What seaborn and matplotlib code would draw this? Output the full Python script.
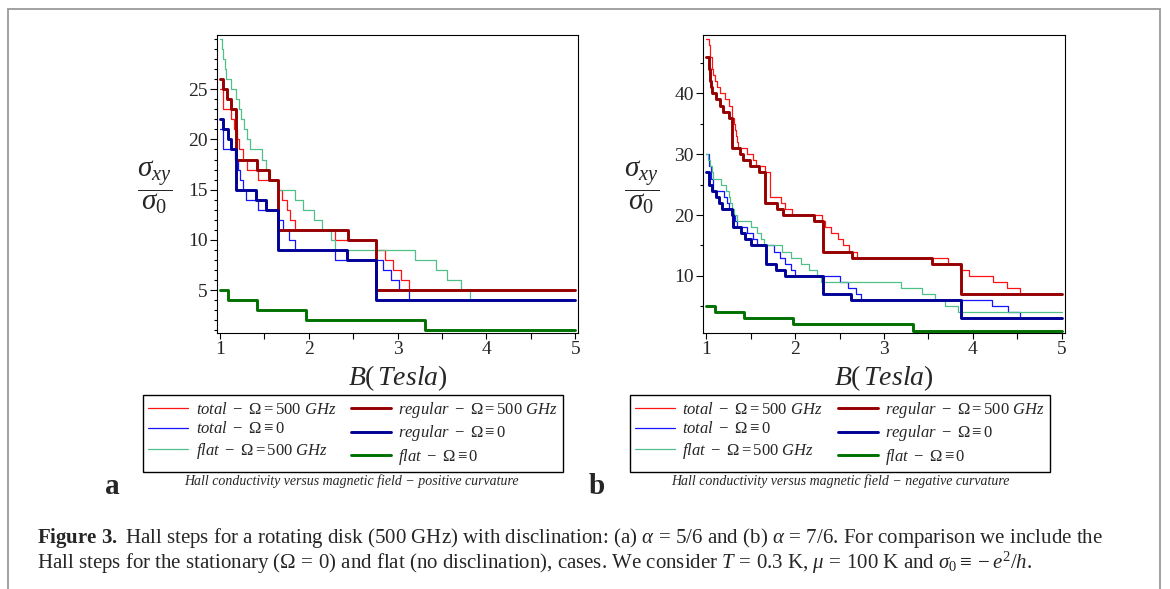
import matplotlib
matplotlib.use('Agg')
import matplotlib.pyplot as plt
import seaborn as sns
from matplotlib.patches import Rectangle
from matplotlib.ticker import MultipleLocator, FixedLocator

# --- data: step functions, value v[i] holds from b[i] up to the next break ---
B_END = 5.0

# (a) positive curvature
a_tot500_b = [1.00, 1.03, 1.13, 1.16, 1.19, 1.22, 1.26, 1.30, 1.43, 1.65, 1.70, 1.75, 1.79, 1.85,
              2.29, 2.76, 2.86, 2.95, 3.04, 3.13]
a_tot500_v = [25, 23, 22, 21, 20, 19, 18, 17, 16, 15, 14, 13, 12, 11, 10, 9, 8, 7, 6, 5]
a_reg500_b = [1.00, 1.04, 1.08, 1.13, 1.18, 1.42, 1.55, 1.65, 2.44, 2.76]
a_reg500_v = [26, 25, 24, 23, 18, 17, 16, 11, 10, 5]
a_tot0_b = [1.00, 1.04, 1.17, 1.20, 1.23, 1.26, 1.29, 1.43, 1.65, 1.71, 1.78, 1.85, 2.29, 2.83,
            2.92, 3.02, 3.13]
a_tot0_v = [21, 19, 18, 17, 16, 15, 14, 13, 12, 11, 10, 9, 8, 7, 6, 5, 4]
a_reg0_b = [1.00, 1.04, 1.09, 1.13, 1.18, 1.41, 1.52, 1.65, 2.43, 2.76]
a_reg0_v = [22, 21, 20, 19, 15, 14, 13, 9, 8, 4]
a_flat500_b = [1.00, 1.02, 1.04, 1.055, 1.07, 1.13, 1.18, 1.21, 1.24, 1.27, 1.30, 1.34, 1.47, 1.52,
               1.56, 1.65, 1.84, 1.93, 2.06, 2.15, 2.25, 2.30, 3.19, 3.43, 3.55, 3.71, 3.82]
a_flat500_v = [30, 29, 28, 27, 26, 25, 24, 23, 22, 21, 20, 19, 18, 17, 16, 15, 14, 13, 12, 11, 10,
               9, 8, 7, 6, 5, 4]
a_flat0_b = [1.00, 1.09, 1.42, 1.97, 3.31]
a_flat0_v = [5, 4, 3, 2, 1]

# (b) negative curvature
b_tot500_b = [1.00, 1.03, 1.045, 1.06, 1.08, 1.10, 1.12, 1.15, 1.205, 1.25, 1.29, 1.31, 1.32, 1.33,
              1.345, 1.36, 1.46, 1.52, 1.56, 1.665, 1.72, 1.84, 1.89, 1.96, 2.30, 2.34, 2.40, 2.485,
              2.54, 2.61, 2.70, 3.72, 3.86, 3.96, 4.23, 4.38, 4.53]
b_tot500_v = [49, 48, 46, 44, 43, 42, 41, 40, 39, 38, 36, 35, 34, 33, 32, 31, 30, 29, 28, 27, 23,
              22, 21, 20, 19, 18, 17, 16, 15, 14, 13, 12, 11, 10, 9, 8, 7]
b_reg500_b = [1.00, 1.025, 1.04, 1.055, 1.065, 1.11, 1.15, 1.19, 1.255, 1.29, 1.375, 1.41, 1.49,
              1.59, 1.66, 1.80, 1.86, 2.21, 2.31, 2.64, 3.54, 3.87]
b_reg500_v = [46, 44, 42, 41, 40, 39, 38, 37, 36, 31, 30, 29, 28, 27, 22, 21, 20, 19, 14, 13, 12, 7]
b_tot0_b = [1.00, 1.035, 1.05, 1.07, 1.20, 1.23, 1.26, 1.29, 1.32, 1.35, 1.46, 1.52, 1.57, 1.76,
            1.83, 1.89, 1.95, 2.00, 2.50, 2.595, 2.68, 2.74, 4.22, 4.40, 4.53]
b_tot0_v = [30, 28, 26, 24, 23, 22, 21, 20, 19, 18, 17, 16, 15, 14, 13, 12, 11, 10, 9, 8, 7, 6, 5,
            4, 3]
b_reg0_b = [1.00, 1.035, 1.065, 1.11, 1.145, 1.18, 1.285, 1.295, 1.305, 1.385, 1.44, 1.50, 1.67,
            1.78, 1.88, 2.31, 2.63, 3.87]
b_reg0_v = [27, 25, 24, 23, 22, 21, 20, 19, 18, 17, 16, 15, 12, 11, 10, 7, 6, 3]
b_flat500_b = [1.00, 1.02, 1.04, 1.06, 1.08, 1.16, 1.22, 1.25, 1.27, 1.29, 1.31, 1.35, 1.50, 1.57,
               1.61, 1.65, 1.855, 1.95, 2.07, 2.16, 2.24, 2.29, 3.19, 3.43, 3.57, 3.69, 3.83]
b_flat500_v = [30, 29, 28, 27, 26, 25, 24, 23, 22, 21, 20, 19, 18, 17, 16, 15, 14, 13, 12, 11, 10,
               9, 8, 7, 6, 5, 4]
b_flat0_b = [1.00, 1.10, 1.42, 1.98, 3.33]
b_flat0_v = [5, 4, 3, 2, 1]

a_yticks = [5, 10, 15, 20, 25]
b_yticks = [10, 20, 30, 40]

labels = [r'$total\ -\ \Omega = 500\ GHz$', r'$total\ -\ \Omega \equiv 0$',
          r'$flat\ -\ \Omega = 500\ GHz$', r'$regular\ -\ \Omega = 500\ GHz$',
          r'$regular\ -\ \Omega \equiv 0$', r'$flat\ -\ \Omega \equiv 0$']
colors = ['#ff1414', '#1414ff', '#50c08a', '#960000', '#000096', '#007000']
widths = [0.9, 0.9, 0.9, 2.1, 2.1, 2.1]

panels = [
    dict(series=[(a_tot500_b, a_tot500_v), (a_tot0_b, a_tot0_v), (a_flat500_b, a_flat500_v),
                 (a_reg500_b, a_reg500_v), (a_reg0_b, a_reg0_v), (a_flat0_b, a_flat0_v)],
         left=217, right=578, xlim=(0.967, 5.03), ylim=(0.73, 30.4), yticks=a_yticks, minor=1,
         letter='a', sub='Hall conductivity versus magnetic field \u2212 positive curvature',
         leg_x=143, sub_x=351, lab_x=112, ylab_x=155),
    dict(series=[(b_tot500_b, b_tot500_v), (b_tot0_b, b_tot0_v), (b_flat500_b, b_flat500_v),
                 (b_reg500_b, b_reg500_v), (b_reg0_b, b_reg0_v), (b_flat0_b, b_flat0_v)],
         left=703, right=1065, xlim=(0.962, 5.037), ylim=(0.6, 49.6), yticks=b_yticks, minor=5,
         letter='b', sub='Hall conductivity versus magnetic field \u2212 negative curvature',
         leg_x=630, sub_x=840, lab_x=597, ylab_x=642),
]

sns.set_theme(style='white')
plt.rcParams['font.family'] = ['Liberation Serif', 'DejaVu Serif']
plt.rcParams['mathtext.fontset'] = 'custom'
plt.rcParams['mathtext.rm'] = 'Liberation Serif'
plt.rcParams['mathtext.it'] = 'Liberation Serif:italic'
plt.rcParams['mathtext.bf'] = 'Liberation Serif:bold'

W, H = 1170, 589
fig = plt.figure(figsize=(W / 100, H / 100), dpi=100)
fig.patch.set_facecolor('white')

# grey page frame
fig.add_artist(Rectangle((8 / W, -0.1), (1160 - 8) / W, 1.1 - 9 / H, transform=fig.transFigure,
                         fill=False, edgecolor='#9a9a9a', lw=1.3, clip_on=False))

top, bottom = 35, 333
for p in panels:
    ax = fig.add_axes([p['left'] / W, 1 - bottom / H, (p['right'] - p['left']) / W, (bottom - top) / H])
    for (bb, vv), c, lw, lab in zip(p['series'], colors, widths, labels):
        sns.lineplot(x=bb + [B_END], y=vv + [vv[-1]], ax=ax, color=c, lw=lw, label=lab,
                     drawstyle='steps-post', estimator=None, sort=False, legend=False)
    if ax.get_legend() is not None:
        ax.get_legend().remove()
    ax.set_xlim(*p['xlim'])
    ax.set_ylim(*p['ylim'])
    ax.xaxis.set_major_locator(MultipleLocator(1))
    ax.xaxis.set_minor_locator(MultipleLocator(0.5))
    ax.yaxis.set_major_locator(FixedLocator(p['yticks']))
    ax.yaxis.set_minor_locator(MultipleLocator(p['minor']))
    ax.tick_params(axis='both', which='both', direction='out', color='black', labelsize=14,
                   pad=1.5, width=0.8)
    ax.tick_params(axis='y', which='major', length=5, left=True)
    ax.tick_params(axis='y', which='minor', length=2.5, left=True)
    ax.tick_params(axis='x', which='both', length=4, bottom=True)
    for s in ax.spines.values():
        s.set_color('black')
        s.set_linewidth(0.8)
    ax.set_xlabel('')
    ax.set_ylabel('')
    cx = (p['left'] + p['right']) / 2
    fig.text(cx / W, 1 - 378 / H, r'$B(\,Tesla)$', fontsize=20, ha='center', va='center')
    fig.text(p['ylab_x'] / W, 1 - 187 / H, r'$\dfrac{\sigma_{xy}}{\sigma_{0}}$', fontsize=21,
             ha='center', va='center')

    handles = ax.get_lines()[:6]
    fig.legend(handles, labels, ncol=2, loc='upper left', bbox_to_anchor=(p['leg_x'] / W, 1 - 395 / H),
               frameon=True, fancybox=False, edgecolor='black', framealpha=1, fontsize=12,
               handlelength=2.4, handletextpad=0.45, columnspacing=0.9, labelspacing=0.2,
               borderpad=0.3, borderaxespad=0)
    fig.text(p['sub_x'] / W, 1 - 481 / H, p['sub'], fontsize=10, style='italic',
             ha='center', va='center')
    fig.text(p['lab_x'] / W, 1 - 486 / H, p['letter'], fontsize=21, fontweight='bold',
             ha='center', va='center')

fig.text(37 / W, 1 - 538 / H,
         r'$\mathbf{Figure\ 3.}$ Hall steps for a rotating disk (500 GHz) with disclination: (a) '
         r'$\alpha\,=\,5/6$ and (b) $\alpha\,=\,7/6$. For comparison we include the',
         fontsize=15, ha='left', va='center')
fig.text(37 / W, 1 - 563 / H,
         r'Hall steps for the stationary ($\Omega\,=\,0$) and flat (no disclination), cases. '
         r'We consider $T\,=\,0.3$ K, $\mu\,=\,100$ K and $\sigma_0 \equiv -e^2/h$.',
         fontsize=15, ha='left', va='center')

fig.savefig('out.png', dpi=100, facecolor='white')
